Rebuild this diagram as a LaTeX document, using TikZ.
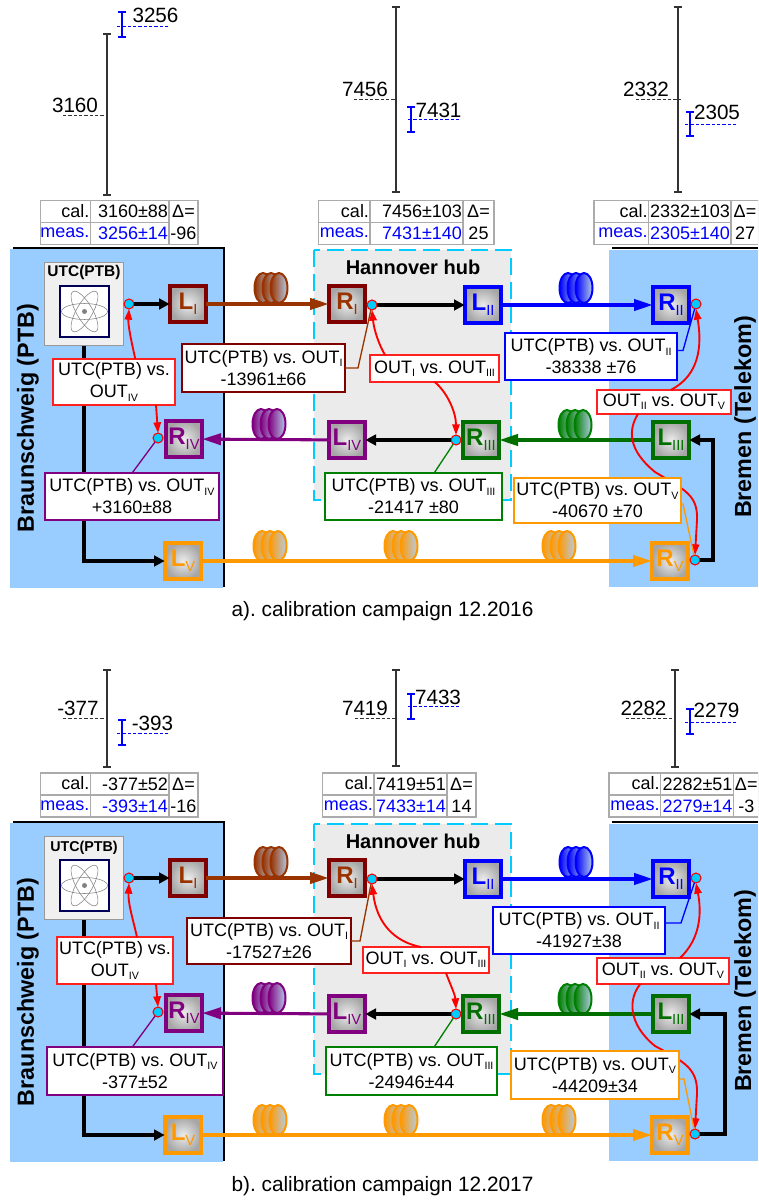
\documentclass[tikz,border=0pt]{standalone}
\usepackage{fontspec}
\setmainfont{Liberation Sans}
\usetikzlibrary{arrows.meta}

\definecolor{regionblue}{HTML}{99CCFF}
\definecolor{hubgray}{HTML}{EBEBEB}
\definecolor{hubcyan}{HTML}{00CCFF}
\definecolor{linkbrown}{HTML}{993300}
\definecolor{boxmaroon}{HTML}{800000}
\definecolor{linkblue}{HTML}{0000FF}
\definecolor{linkpurple}{HTML}{800080}
\definecolor{linkgreen}{HTML}{008000}
\definecolor{boxgreen}{HTML}{006F00}
\definecolor{linkorange}{HTML}{FF9900}
\definecolor{coilblue}{HTML}{B4CCE8}
\definecolor{labelred}{HTML}{FF2020}
\definecolor{tablegray}{HTML}{ABABAB}

\newcommand{\lowsub}[1]{\raisebox{-2.5pt}{\fontsize{8}{8}\selectfont #1}}
\newcommand{\portname}[2]{\textbf{#1}\raisebox{-3.5pt}{\fontsize{11}{11}\selectfont #2}}
\newcommand{\fibercoil}[3]{%
  \foreach \coilshift in {-8,0,8}
    \draw[coilline,draw=#3,left color=#3,right color=coilblue]
      (#1+\coilshift,#2) ellipse (8.5 and 15);}
\newcommand{\valuebars}[2]{%
  \foreach \barx/\bartop/\barbot/\dashy/\dasha/\dashb/\labx/\laby/\barlabel in {#2}{
    \draw[line width=1pt,#1] (\barx,\bartop) -- (\barx,\barbot);
    \draw[line width=0.8pt,#1] (\barx-4,\bartop) -- (\barx+4,\bartop);
    \draw[line width=0.8pt,#1] (\barx-4,\barbot) -- (\barx+4,\barbot);
    \draw[valuedash,#1] (\dasha,\dashy) -- (\dashb,\dashy);
    \node[valuetext] (bar\barlabel) at (\labx,\laby) {\barlabel};
  }}
\newcommand{\calbox}[9]{%
  \draw[tableline] (#1,#5) rectangle (#4,#5+44);
  \draw[tableline] (#2,#5) -- (#2,#5+44);
  \draw[tableline] (#3,#5) -- (#3,#5+44);
  \draw[tableline] (#1,#5+22) -- (#3,#5+22);
  \node[anchor=east] (#9cal) at (#2-1,#5+10.5) {cal.};
  \node[anchor=east,text=linkblue] (#9meas) at (#2-1,#5+32.5) {meas.};
  \node[anchor=east] (#9calval) at (#3-1,#5+11) {#6};
  \node[anchor=east,text=linkblue] (#9measval) at (#3-1,#5+33) {#7};
  \node (#9delta) at ({(#3+#4)/2},#5+11) {Δ=};
  \node (#9diff) at ({(#3+#4)/2},#5+33) {#8};}

% everything that both campaigns share; #1 is the x of the return line at Bremen
\newcommand{\linkpanel}[1]{%
  \fill[regionblue] (10,249) rectangle (223,588);
  \fill[regionblue] (609,250) rectangle (758,587);
  \draw[line width=2pt] (13,248) -- (224,248) -- (224,587);
  \draw[line width=2pt] (612,248) -- (758,248);
  \fill[hubgray] (314,250) rectangle (511,500);
  \draw[hubline] (314,250) rectangle (511,500);
  \node[font=\bfseries\fontsize{15}{18}\selectfont] (hubname) at (413,267) {Hannover hub};
  \node[regionname,rotate=90] (brname) at (28,418) {Braunschweig (PTB)};
  \node[regionname,rotate=90] (blname) at (745,417) {Bremen (Telekom)};
  % the clock
  \node[draw=gray!80,line width=1.1pt,fill=gray!12,minimum width=59pt,minimum height=62.5pt] (utc) at (84,304) {};
  \draw[draw=blue!35!black,fill=white,line width=0.9pt] (60,286) rectangle (109,337);
  \foreach \atomangle in {0,60,120}
    \draw[gray,line width=0.4pt,rotate around={\atomangle:(84.5,311.5)}] (84.5,311.5) ellipse (23 and 8);
  \fill[gray] (84.5,311.5) circle (2.5);
  % fibre spools
  \fibercoil{271}{288}{linkbrown}
  \fibercoil{576}{288}{linkblue}
  \fibercoil{269}{424}{linkpurple}
  \fibercoil{575}{425}{linkgreen}
  \fibercoil{270}{546}{linkorange}
  \fibercoil{401}{546}{linkorange}
  \fibercoil{559}{546}{linkorange}
  % ports
  \node[portbox={boxmaroon}{linkbrown}] (lI) at (188,304) {\portname{L}{I}};
  \node[portbox={boxmaroon}{linkbrown}] (rI) at (347,304) {\portname{R}{I}};
  \node[portbox={linkblue}{linkblue}] (lII) at (483,305) {\portname{L}{II}};
  \node[portbox={linkblue}{linkblue}] (rII) at (671,305) {\portname{R}{II}};
  \node[portbox={boxgreen}{boxgreen}] (rIII) at (481,440) {\portname{R}{III}};
  \node[portbox={boxgreen}{boxgreen}] (lIII) at (671,440) {\portname{L}{III}};
  \node[portbox={linkpurple}{linkpurple}] (rIV) at (184,439) {\portname{R}{IV}};
  \node[portbox={linkpurple}{linkpurple}] (lIV) at (347,440) {\portname{L}{IV}};
  \node[portbox={linkorange}{linkorange}] (lV) at (183,561) {\portname{L}{V}};
  \node[portbox={linkorange}{linkorange}] (rV) at (670,561) {\portname{R}{V}};
  \node[portdot] (dotutc) at (129,304) {};
  \node[portdot] (dotrI) at (372,305) {};
  \node[portdot] (dotrII) at (696,304) {};
  \node[portdot] (dotrIII) at (456,440) {};
  \node[portdot] (dotrIV) at (158,438) {};
  \node[portdot] (dotrV) at (695,560) {};
  % fibres
  \draw[fiberline,linkbrown] (lI) -- (rI);
  \draw[fiberline,linkblue] (lII) -- (rII);
  \draw[fiberline,boxgreen] (lIII) -- (rIII);
  \draw[fiberline,linkpurple] (lIV) -- (rIV);
  \draw[fiberline,linkorange] (lV) -- (rV);
  % local links
  \draw[localline] (utc.south) |- (lV.west);
  \draw[localline] (dotutc) -- (lI);
  \draw[localline] (dotrI) -- (lII);
  \draw[localline] (dotrIII) -- (lIV);
  \draw[localline] (dotrV.east) -| (#1,440) -- (lIII.east);
}

\begin{document}
\frenchspacing
\begin{tikzpicture}[x=0.75pt,y=-0.75pt,
  every node/.style={font=\fontsize{13.5}{16.5}\selectfont,inner sep=0pt,outer sep=0pt},
  tableline/.style={draw=tablegray,line width=0.8pt},
  valuetext/.style={font=\fontsize{15.5}{18}\selectfont},
  valuedash/.style={line width=0.6pt,dash pattern=on 2.5pt off 1.5pt},
  regionname/.style={font=\bfseries\fontsize{17.5}{20}\selectfont},
  hubline/.style={draw=hubcyan,line width=1.6pt,dash pattern=on 13pt off 5pt},
  coilline/.style={line width=1.5pt},
  portbox/.style 2 args={draw=#1,text=#2,line width=3pt,minimum size=27.5pt,
    inner color=gray!15,outer color=gray!70,font=\fontsize{18}{18}\selectfont},
  portdot/.style={circle,draw=red,fill=hubcyan,line width=0.8pt,minimum size=7.5pt},
  fiberline/.style={line width=2.3pt,-{Triangle[length=14pt,width=8.5pt]},shorten >=0pt},
  localline/.style={line width=2.6pt,black,-{Triangle[length=8pt,width=8pt]}},
  readout/.style 2 args={draw=#1,fill=white,line width=1.2pt,align=center,font=\fontsize{13.5}{16.5}\selectfont,
    minimum width={(#2)*0.75pt}},
  redlink/.style={draw=red,line width=1.4pt,-{Triangle[length=8pt,width=5.5pt]}},
  thinlink/.style={line width=1pt},
  caption/.style={font=\fontsize{15.6}{18}\selectfont}]
  \useasboundingbox (0,0) rectangle (758,1201);
  \clip (0,0) rectangle (758,1201);

  % campaign 2016
  \begin{scope}[name prefix=a-]
    \valuebars{black!80}{107/34/195/115/63/107/75/105/3160,396/7/192/99/354/396/365/89/7456,678/7/192/99/636/681/646/89/2332}
    \valuebars{linkblue}{122/12/37/26/117/168/155.5/15/3256,411/107/132/119/408/460/438.5/110/7431,690/112/136/124/685/737/717/112/2305}
    \calbox{40.5}{90.5}{169}{198}{200.5}{3160±88}{3256±14}{-96}{tabcal}
    \calbox{318.5}{370}{463}{494}{200.5}{7456±103}{7431±140}{25}{tabhub}
    \calbox{594}{648.5}{731}{759}{200.5}{2332±103}{2305±140}{27}{tabbr}
    \linkpanel{713}
    \node[readout={labelred}{122},minimum height=34.5pt] (cmpIV) at (114,382) {UTC(PTB) vs.\\OUT\lowsub{IV}};
    \node[readout={boxmaroon}{163},minimum height=36pt] (resI) at (263.5,368) {UTC(PTB) vs. OUT\lowsub{I}\\-13961±66};
    \node[readout={labelred}{129},minimum height=20pt] (cmpIII) at (434.5,368.5) {OUT\lowsub{I} vs. OUT\lowsub{III}};
    \node[readout={linkgreen}{177},minimum height=35pt] (resIII) at (413.5,496.5) {UTC(PTB) vs. OUT\lowsub{III}\\-21417 ±80};
    \node[readout={linkpurple}{174},minimum height=35pt] (resIV) at (132,496.5) {UTC(PTB) vs. OUT\lowsub{IV}\\+3160±88};
    \node[readout={linkblue}{172},minimum height=35pt] (resII) at (591,356.5) {UTC(PTB) vs. OUT\lowsub{II}\\-38338 ±76};
    \node[readout={labelred}{134},minimum height=18pt] (cmpV) at (664,402) {OUT\lowsub{II} vs. OUT\lowsub{V}};
    \draw[redlink] ([xshift=16pt]cmpIV.north) .. controls (131,340) and (128,325) .. (dotutc.south);
    \draw[redlink] ([xshift=31.5pt]cmpIV.south) -- (dotrIV.north);
    \draw[redlink] ([xshift=-37pt]cmpIII.north) .. controls (379,345) and (374,330) .. (dotrI.south);
    \draw[redlink] (cmpIII.south) .. controls (447,392) and (456,412) .. (dotrIII.north);
    \draw[redlink] ([xshift=5pt]cmpV.north) .. controls (700,375) and (702,345) .. (dotrII.south);
    \draw[redlink] ([xshift=-19.5pt]cmpV.south) .. controls (628,430) and (628,450) .. (655,472)
      .. controls (685,490) and (698,495) .. (697,520) -- (dotrV.north);
    \node[readout={linkorange}{167},minimum height=34pt] (resV) at (597.5,500.5) {UTC(PTB) vs. OUT\lowsub{V}\\-40670 ±70};
    \draw[thinlink,linkbrown] (resI.east) -- ++(13,0) -- (dotrI);
    \draw[thinlink,linkgreen] ([xshift=15.4pt]resIII.north) -- (dotrIII);
    \draw[thinlink,linkpurple] (resIV.north) -- (dotrIV);
    \draw[thinlink,linkblue] ([yshift=4.5pt]resII.east) -- ++(6,0) -- (dotrII);
    \draw[thinlink,linkorange] ([yshift=-2.6pt]resV.east) -- ++(2,0) -- (dotrV);
    \node[font=\bfseries\fontsize{11.6}{14}\selectfont] (utcname) at (84,273) {UTC(PTB)};
    \node[caption] (captiona) at (382.5,611) {a). calibration campaign 12.2016};
  \end{scope}

  % campaign 2017
  \begin{scope}[name prefix=b-,shift={(0,574)}]
    \valuebars{black!80}{107/96/193/144/63/107/78/134/-377,396/96/192/144/355/396/365/134/7419,675/96/193/144/626/675/643.5/134/2282}
    \valuebars{linkblue}{122/146/171/159/117/168/152.5/149/-393,411/120/145/132/408/460/438/123/7433,690/135/160/148/685/736/716.5/136/2279}
    \calbox{40.5}{90.5}{169}{198}{199}{-377±52}{-393±14}{-16}{tabcal}
    \calbox{322.5}{374}{447}{476}{199}{7419±51}{7433±14}{14}{tabhub}
    \calbox{609}{660.5}{733.5}{759}{199}{2282±51}{2279±14}{-3}{tabbr}
    \linkpanel{725}
    \node[readout={labelred}{116},minimum height=35pt] (cmpIV) at (115,386.5) {UTC(PTB) vs.\\OUT\lowsub{IV}};
    \node[readout={boxmaroon}{164},minimum height=34.5pt] (resI) at (269,367) {UTC(PTB) vs. OUT\lowsub{I}\\-17527±26};
    \node[readout={labelred}{126},minimum height=19.5pt] (cmpIII) at (426,386) {OUT\lowsub{I} vs. OUT\lowsub{III}};
    \node[readout={linkgreen}{171},minimum height=36pt] (resIII) at (411.5,497) {UTC(PTB) vs. OUT\lowsub{III}\\-24946±44};
    \node[readout={linkpurple}{176},minimum height=36pt] (resIV) at (135,497) {UTC(PTB) vs. OUT\lowsub{IV}\\-377±52};
    \node[readout={linkblue}{172},minimum height=35pt] (resII) at (579,356.5) {UTC(PTB) vs. OUT\lowsub{II}\\-41927±38};
    \node[readout={labelred}{132},minimum height=19.5pt] (cmpV) at (663,397) {OUT\lowsub{II} vs. OUT\lowsub{V}};
    \draw[redlink] ([xshift=16.5pt]cmpIV.north) .. controls (133,345) and (128,330) .. (dotutc.south);
    \draw[redlink] ([xshift=30.75pt]cmpIV.south) -- (dotrIV.north);
    \draw[redlink] ([xshift=-3.75pt]cmpIII.north) .. controls (395,368) and (377,350) .. (dotrI.south);
    \draw[redlink] ([xshift=15pt]cmpIII.south) .. controls (450,410) and (455,420) .. (dotrIII.north);
    \draw[redlink] ([xshift=12.75pt]cmpV.north) .. controls (700,365) and (702,340) .. (dotrII.south);
    \draw[redlink] ([xshift=-17pt]cmpV.south) .. controls (628,425) and (628,450) .. (655,472)
      .. controls (685,488) and (698,495) .. (697,520) -- (dotrV.north);
    \node[readout={linkorange}{168},minimum height=36pt] (resV) at (595,501) {UTC(PTB) vs. OUT\lowsub{V}\\-44209±34};
    \draw[thinlink,linkbrown] (resI.east) -- ++(9,0) -- (dotrI);
    \draw[thinlink,linkgreen] ([xshift=17pt]resIII.north) -- (dotrIII);
    \draw[thinlink,linkpurple] ([xshift=-2pt]resIV.north) -- (dotrIV);
    \draw[thinlink,linkblue] ([yshift=5.6pt]resII.east) -- ++(16,0) -- (dotrII);
    \draw[thinlink,linkorange] ([yshift=-3pt]resV.east) -- ++(5,0) -- (dotrV);
    \node[font=\bfseries\fontsize{10.7}{14}\selectfont] (utcname) at (84,274) {UTC(PTB)};
    \node[caption] (captionb) at (382.5,612) {b). calibration campaign 12.2017};
  \end{scope}
\end{tikzpicture}
\end{document}
